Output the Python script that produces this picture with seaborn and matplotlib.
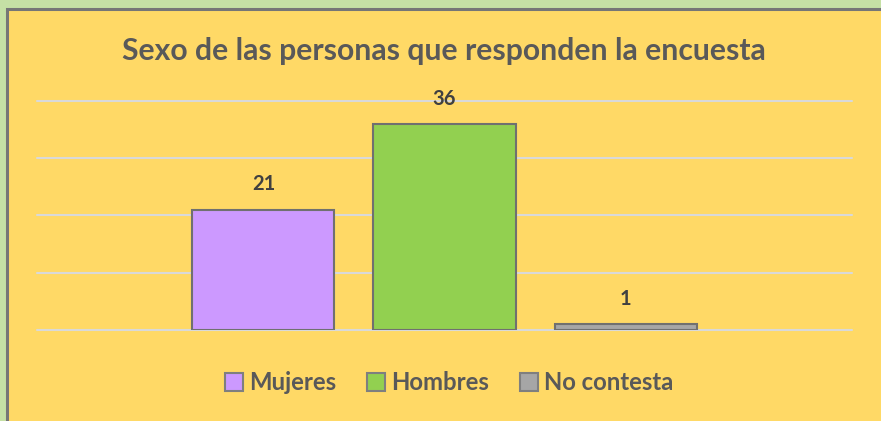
import matplotlib
matplotlib.use("Agg")
import matplotlib.pyplot as plt
import seaborn as sns
from matplotlib.patches import Rectangle, Patch

# datos de la encuesta
categorias = ["Mujeres", "Hombres", "No contesta"]
valores = [21, 36, 1]
colores = ["#CC99FF", "#92D050", "#A6A6A6"]

sns.set_style("white")
plt.rcParams['font.family'] = ['Lato', 'DejaVu Sans']

fig = plt.figure(figsize=(8.81, 4.21), dpi=100)
fig.patch.set_facecolor("#C5E0A5")

# marco amarillo del grafico
marco = Rectangle((7 / 881, -0.05), 1.0, 1 - 9 / 421 + 0.05, transform=fig.transFigure,
                  facecolor="#FFD966", edgecolor="#767676", linewidth=2.2, zorder=-5)
fig.patches.append(marco)

ax = fig.add_axes([37 / 881, (421 - 330) / 421, 815 / 881, 229 / 421])
ax.set_facecolor("none")

sns.barplot(x=categorias, y=valores, hue=categorias, palette=colores, ax=ax, saturation=1,
            width=142 / 181, edgecolor="#707070", linewidth=1.5, legend=False, zorder=3)

for cont in ax.containers:
    ax.bar_label(cont, padding=11, fontsize=14.5, fontweight="bold", color="#404040")

ax.set_ylim(0, 40)
ax.set_xlim(-1.25, 3.25)
ax.set_yticks([0, 10, 20, 30, 40])
ax.yaxis.grid(True, color="#D9D9D9", linewidth=1.5)
for gl in ax.get_ygridlines():
    gl.set_clip_on(False)
ax.set_axisbelow(True)
ax.set_xticks([])
ax.set_yticklabels([])
ax.tick_params(left=False, bottom=False)
ax.set_xlabel("")
ax.set_ylabel("")
sns.despine(ax=ax, left=True, bottom=True)

fig.text(444 / 881, 1 - 51 / 421, "Sexo de las personas que responden la encuesta",
         ha="center", va="center", fontsize=21.7, fontweight="bold", color="#595959")

handles = [Patch(facecolor=c, edgecolor="#7F7F7F", linewidth=1.5) for c in colores]
fig.legend(handles, categorias, loc="center", bbox_to_anchor=(449 / 881, 1 - 383 / 421),
           ncol=3, frameon=False, handlelength=0.75, handleheight=0.75, handletextpad=0.25,
           columnspacing=1.3, prop={"size": 17.2, "weight": "bold"}, labelcolor="#595959")

fig.savefig("out.png", dpi=100, facecolor=fig.get_facecolor())
